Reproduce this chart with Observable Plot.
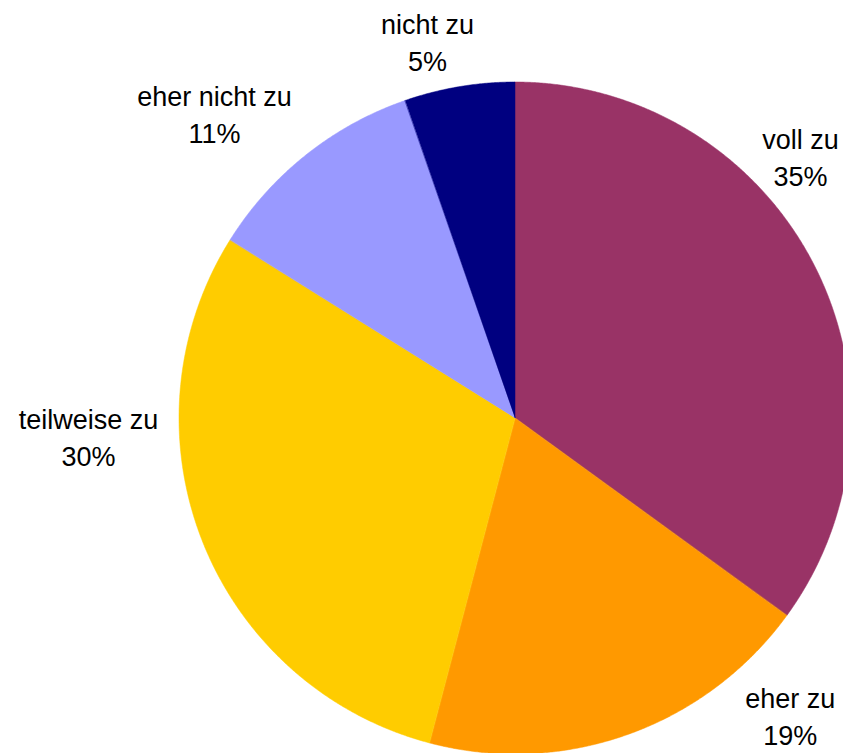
<!DOCTYPE html>
<html>
<head>
<meta charset="utf-8">
<script src="https://cdn.jsdelivr.net/npm/d3@7"></script>
<script src="https://cdn.jsdelivr.net/npm/@observablehq/plot@0.6"></script>
<style>
  html, body { margin: 0; padding: 0; background: #fff; overflow: hidden; }
  svg { display: block; }
</style>
</head>
<body>
<div id="chart"></div>
<script>
// Data
const categories = ["voll zu", "eher zu", "teilweise zu", "eher nicht zu", "nicht zu"];
const values = [35.0, 19.1, 29.8, 10.8, 5.3];
const colors = ["#993366", "#FF9900", "#FFCC00", "#9999FF", "#000080"];
// label anchor positions in chart units (pie radius = 1)
const labelX = [0.848, 0.818, -1.271, -0.896, -0.262];
const labelY = [0.783, -0.881, -0.051, 0.911, 1.125];

const total = d3.sum(values);
const pie = d3.pie().sort(null).value(d => d.value)(
  categories.map((c, i) => ({category: c, value: values[i]}))
);

// sector geometry: arc points paired with the centre
const sectors = [];
for (const p of pie) {
  const n = Math.max(2, Math.ceil((p.endAngle - p.startAngle) / 0.005));
  for (let k = 0; k <= n; k++) {
    const a = p.startAngle + (p.endAngle - p.startAngle) * k / n;
    sectors.push({category: p.data.category, x1: Math.sin(a), y1: Math.cos(a), x2: 0, y2: 0});
  }
}

const labels = categories.map((c, i) => ({
  text: `${c}\n${Math.round(values[i] / total * 100)}%`,
  x: labelX[i], y: labelY[i]
}));

const chart = Plot.plot({
  width: 843,
  height: 753,
  margin: 0,
  style: {background: "#fff", overflow: "hidden"},
  x: {domain: [-1, 1], range: [179, 851], axis: null},
  y: {domain: [-1, 1], range: [754, 82], axis: null},
  color: {domain: categories, range: colors},
  marks: [
    Plot.area(sectors, {x1: "x1", y1: "y1", x2: "x2", y2: "y2", z: "category", fill: "category", stroke: "category", strokeWidth: 0.5, curve: "linear"}),
    Plot.text(labels, {x: "x", y: "y", text: "text", fontSize: 27, lineHeight: 1.37, fill: "#000", fontFamily: "Liberation Sans, Arial, sans-serif"})
  ]
});
document.getElementById("chart").appendChild(chart);
</script>
</body>
</html>
